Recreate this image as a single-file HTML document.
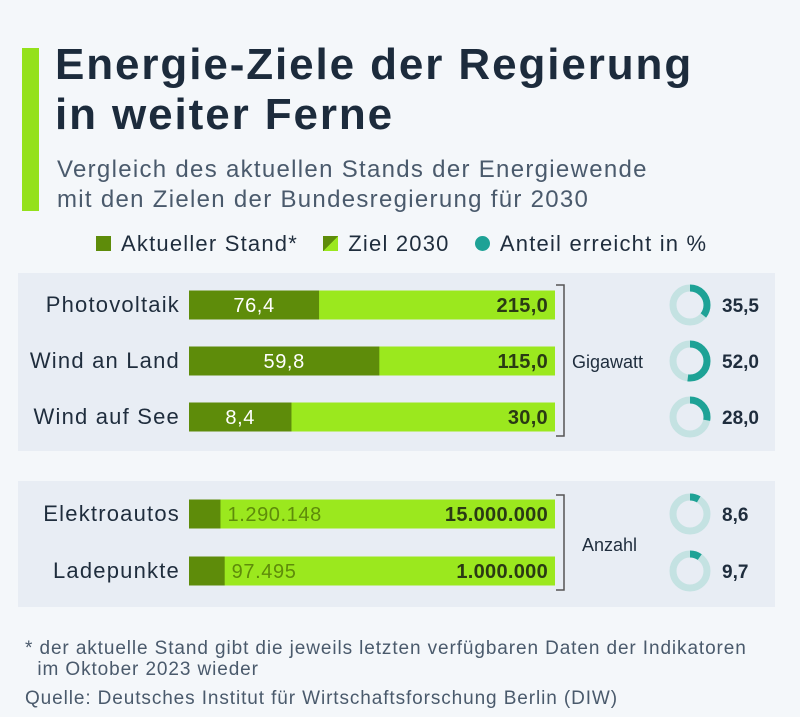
<!DOCTYPE html>
<html><head><meta charset="utf-8"><style>
body{margin:0;width:800px;height:717px;background:#f4f7fa;font-family:"Liberation Sans","DejaVu Sans",sans-serif;position:relative;overflow:hidden;color:#1f2d3d}
.abs{position:absolute}
</style></head><body>
<div class="abs" style="left:22px;top:48px;width:17px;height:163px;background:#94e11b"></div>
<div class="abs" style="left:55px;top:40px;font-size:44px;letter-spacing:1.9px;font-weight:bold;line-height:50px;color:#1c2b3c;white-space:nowrap">Energie-Ziele der Regierung<br>in weiter Ferne</div>
<div class="abs" style="left:57px;top:155px;font-size:24px;letter-spacing:1.3px;line-height:30px;color:#4a5a6c;white-space:nowrap">Vergleich des aktuellen Stands der Energiewende<br>mit den Zielen der Bundesregierung für 2030</div>
<div class="abs" style="left:96px;top:231px;font-size:22px;letter-spacing:1.2px;color:#1f2d3d;white-space:nowrap">
<span><span style="display:inline-block;width:15px;height:15px;background:#5e8c0a;margin-right:10px"></span>Aktueller Stand*</span>
<span style="margin-left:18px"><span style="display:inline-block;width:15px;height:15px;background:linear-gradient(135deg,#5e8c0a 50%,#9be81e 50%);margin-right:10px"></span>Ziel 2030</span>
<span style="margin-left:18px"><span style="display:inline-block;width:15px;height:15px;border-radius:50%;background:#1ea296;margin-right:10px"></span>Anteil erreicht in %</span>
</div>
<div class="abs" style="left:18px;top:273px;width:757px;height:178px;background:#e8edf4"></div>
<div class="abs" style="left:18px;top:481px;width:757px;height:126px;background:#e8edf4"></div>
<svg class="abs" style="left:0;top:0" width="800" height="717" id="chart"></svg>
<div class="abs" style="left:25px;top:638px;font-size:19px;letter-spacing:0.9px;line-height:21px;color:#4a5a6c;white-space:nowrap">* der aktuelle Stand gibt die jeweils letzten verfügbaren Daten der Indikatoren<br>&nbsp;&nbsp;im Oktober 2023 wieder</div>
<div class="abs" style="left:25px;top:688px;font-size:19px;letter-spacing:0.9px;color:#4a5a6c;white-space:nowrap">Quelle: Deutsches Institut für Wirtschaftsforschung Berlin (DIW)</div>
<script>
const categories=["Photovoltaik","Wind an Land","Wind auf See","Elektroautos","Ladepunkte"];
const currentValues=[76.4,59.8,8.4,1290148,97495];
const targetValues=[215,115,30,15000000,1000000];
const currentLabels=["76,4","59,8","8,4","1.290.148","97.495"];
const targetLabels=["215,0","115,0","30,0","15.000.000","1.000.000"];
const shareValues=[35.5,52.0,28.0,8.6,9.7];
const shareLabels=["35,5","52,0","28,0","8,6","9,7"];
const rowY=[305,361,417,514,571];
const NS="http://www.w3.org/2000/svg";
const svg=document.getElementById('chart');
const x0=189,barW=366,bh=29;
function mk(t,a){const e=document.createElementNS(NS,t);for(const k in a)e.setAttribute(k,a[k]);svg.appendChild(e);return e;}
function xs(v,max){return x0+v/max*barW;}
categories.forEach((c,i)=>{
 const y=rowY[i];
 const lab=mk('text',{x:180,y:y+7,'text-anchor':'end','font-size':22,'letter-spacing':1.2,fill:'#1f2d3d'});lab.textContent=c;
 
 
 const t=mk('rect',{x:x0,y:y-bh/2,width:xs(targetValues[i],targetValues[i])-x0,height:bh,fill:'#9be81e'});
 
 
 const cw=xs(currentValues[i],targetValues[i])-x0;
 const r=mk('rect',{x:x0,y:y-bh/2,width:cw,height:bh,fill:'#5e8c0a'});
 
 
 const inside=cw>80;
 const cl=mk('text',{x:inside?x0+cw/2:x0+cw+7,y:y+7,'text-anchor':inside?'middle':'start','font-size':20,'letter-spacing':0.6,fill:inside?'#ffffff':'#5e8c0a'});cl.textContent=currentLabels[i];
 
 
 const tl=mk('text',{x:x0+barW-7,y:y+7,'text-anchor':'end','font-size':20,'letter-spacing':0.3,'font-weight':'bold',fill:'#2a3a14'});tl.textContent=targetLabels[i];
 
 
 const cx=690,rr=17,circ=2*Math.PI*rr;
 const bg=mk('circle',{cx:cx,cy:y,r:rr,fill:'none',stroke:'#c4e2e2','stroke-width':7});
 
 
 const arc=mk('circle',{cx:cx,cy:y,r:rr,fill:'none',stroke:'#1ea296','stroke-width':7,'stroke-dasharray':(shareValues[i]/100*circ)+' '+circ,transform:`rotate(-90 ${cx} ${y})`});
 
 
 const sl=mk('text',{x:722,y:y+7,'font-size':19,'font-weight':'bold',fill:'#1f2d3d'});sl.textContent=shareLabels[i];
 
 
});
function bracket(y1,y2,label,ly,lx){
 const p=mk('path',{d:`M556 ${y1} H564 V${y2} H556`,fill:'none',stroke:'#555','stroke-width':1.5});
 
 
 const t=mk('text',{x:lx,y:ly,'font-size':18,fill:'#1f2d3d'});t.textContent=label;
 
 
}
bracket(285,436,'Gigawatt',368,572);
bracket(495,590,'Anzahl',551,582);
</script>
</body></html>
